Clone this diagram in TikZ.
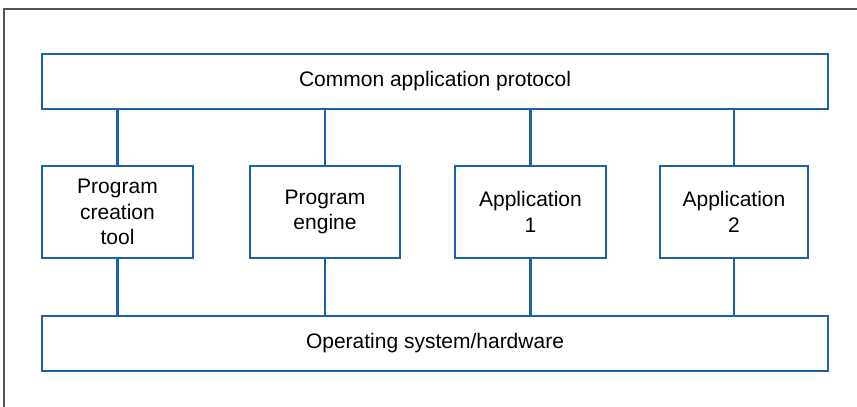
\documentclass[tikz,border=0pt]{standalone}
\usepackage{fontspec}
\setmainfont{Liberation Sans}
\definecolor{lineblue}{HTML}{1A62AC}
\definecolor{framegray}{HTML}{555555}
\tikzset{
  x=1pt, y=-1pt,
  blk/.style={draw=lineblue, line width=2.8pt, fill=white, inner sep=0pt, align=center,
    font=\fontsize{21}{25.5}\selectfont, text=black},
  conn/.style={draw=lineblue, line width=2.8pt},
  frame/.style={draw=framegray, line width=1.4pt}
}
\begin{document}
\begin{tikzpicture}
\useasboundingbox (0,0) rectangle (857,407);
\draw[frame] (4,407) -- (4,9) -- (857,9);
\node[blk, minimum width=786pt, minimum height=55pt] (top) at (435,81.5) {Common application protocol};
\node[blk, minimum width=786pt, minimum height=55pt] (bot) at (435,343.5) {Operating system/hardware};
\node[blk, minimum width=151pt, minimum height=92pt] (b1) at (117.5,212) {Program\\creation\\tool};
\node[blk, minimum width=150pt, minimum height=92pt] (b2) at (325,212) {Program\\engine};
\node[blk, minimum width=151pt, minimum height=92pt] (b3) at (530.5,212) {Application\\1};
\node[blk, minimum width=148pt, minimum height=92pt] (b4) at (734,212) {Application\\2};
\foreach \b in {b1,b2,b3,b4}{
  \draw[conn] (top.south -| \b.north) -- (\b.north);
  \draw[conn] (\b.south) -- (bot.north -| \b.south);
}
\end{tikzpicture}
\end{document}
